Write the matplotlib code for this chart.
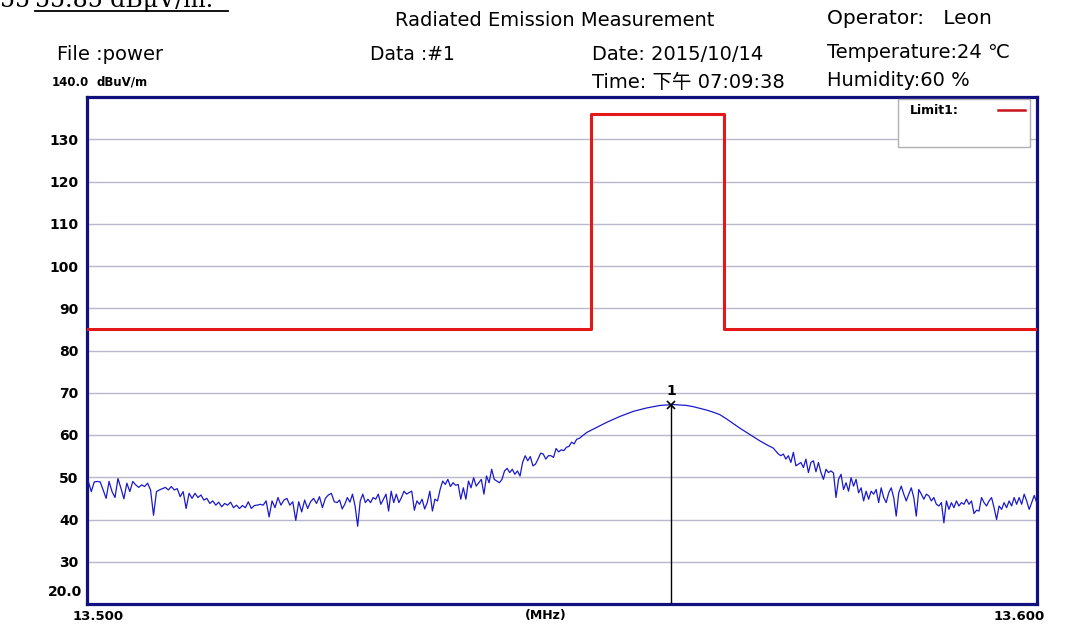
import numpy as np
import matplotlib.pyplot as plt
from matplotlib.patches import Rectangle
from matplotlib.lines import Line2D

plt.rcParams['font.family'] = ['DejaVu Sans', 'Noto Sans CJK SC']

# sweep, in four stretches (start MHz, stop MHz, levels dBuV/m)
seg_a = (13.50014, 13.52603, [
    49.0, 46.6, 48.9, 49.0, 48.9, 47.0, 45.0, 49.0, 46.6, 45.2, 49.7, 47.4, 44.9, 48.6,
    46.6, 49.0, 48.2, 47.6, 48.2, 47.8, 48.6, 47.0, 41.0, 46.6, 47.0, 47.3, 47.6, 47.0,
    47.8, 47.0, 47.3, 45.4, 46.6, 42.6, 46.2, 45.0, 46.2, 45.2, 45.8, 44.6, 45.0, 43.8,
    44.4, 43.4, 44.1, 43.0, 43.8, 43.4, 44.1, 42.8, 43.4, 42.6, 43.3, 42.8, 44.2, 42.6,
    43.3, 43.4, 43.6, 43.4, 44.4, 40.6, 44.4, 42.8, 45.2, 43.4, 44.6, 45.0, 43.4, 44.2,
    39.8, 44.2, 41.8, 44.6, 42.6, 44.2, 45.0, 43.8, 45.4, 42.8, 45.0, 45.8, 46.2, 44.2])
seg_b = (13.52632, 13.55182, [
    44.0, 44.6, 42.5, 43.6, 45.2, 44.1, 46.0, 43.2, 38.4, 44.4, 46.0, 44.0, 44.8, 44.0,
    45.2, 44.8, 46.0, 43.6, 44.8, 46.0, 42.0, 46.7, 44.0, 46.0, 44.0, 45.2, 46.7, 46.0,
    46.4, 46.7, 42.2, 44.4, 43.6, 44.8, 42.5, 44.0, 46.7, 42.0, 44.8, 44.4, 47.1, 49.1,
    48.3, 49.5, 47.8, 48.7, 48.1, 48.3, 44.8, 47.5, 44.8, 49.1, 47.5, 49.9, 47.9, 48.7,
    49.5, 46.0, 50.3, 48.7, 51.9, 49.5, 49.1, 48.7, 49.5, 51.5, 52.1, 51.1, 51.9, 50.7,
    51.5, 50.3, 53.5, 55.1, 53.9, 54.9, 52.7, 53.1, 54.3, 55.7, 55.5, 54.3, 55.1, 55.1,
    54.7, 56.8, 56.0, 56.5, 56.3, 57.1, 57.3, 58.3, 57.9, 59.0, 59.2])
seg_c = (13.55260, 13.57224, [
    60.6, 61.4, 62.2, 63.0, 63.7, 64.4, 65.0, 65.6, 66.0, 66.4, 66.7, 67.0, 67.1, 67.2,
    67.1, 67.0, 66.7, 66.3, 65.9, 65.4, 64.8, 63.8, 62.7, 61.6, 60.6, 59.6, 58.6, 57.7,
    56.9])
seg_d = (13.57277, 13.59997, [
    55.5, 55.1, 55.5, 54.3, 55.1, 53.5, 55.9, 52.7, 53.1, 53.5, 52.3, 54.3, 51.1, 53.5,
    53.9, 51.3, 53.5, 51.1, 49.5, 51.9, 51.1, 51.5, 51.0, 45.2, 49.5, 50.7, 47.1, 48.7,
    46.7, 49.9, 47.9, 49.5, 46.3, 47.5, 44.4, 46.7, 44.8, 46.7, 46.0, 47.1, 44.0, 47.5,
    45.2, 44.0, 46.3, 47.5, 45.2, 40.8, 46.3, 47.9, 46.0, 44.4, 46.0, 47.5, 45.2, 40.8,
    47.1, 46.0, 44.8, 46.0, 45.6, 44.4, 45.2, 43.6, 43.2, 44.0, 39.2, 44.4, 42.4, 44.0,
    42.8, 44.4, 43.2, 44.0, 43.6, 44.8, 43.6, 44.4, 41.4, 42.2, 42.0, 45.2, 44.0, 43.2,
    44.4, 45.2, 42.8, 40.0, 43.2, 42.4, 44.0, 42.8, 44.4, 43.2, 45.2, 43.6, 45.2, 43.6,
    46.0, 44.4, 42.4, 44.0, 45.7, 44.0])

limit_freq = [13.5, 13.5531, 13.5531, 13.5671, 13.5671, 13.6]
limit_level = [85, 85, 136, 136, 85, 85]

marker_freq = 13.5615
marker_level = 67.2

y_ticks = [30, 40, 50, 60, 70, 80, 90, 100, 110, 120, 130]

W, H = 1089, 628
fig = plt.figure(figsize=(W / 100, H / 100), dpi=100)
ax = fig.add_axes([87 / W, 1 - 604 / H, 950 / W, 507 / H])

navy = '#10107e'
red = '#e41818'
freq = np.concatenate([np.linspace(s, e, len(v)) for s, e, v in (seg_a, seg_b, seg_c, seg_d)])
level = np.concatenate([v for s, e, v in (seg_a, seg_b, seg_c, seg_d)])

ax.plot(freq, level, color='#1a1acc', lw=0.9, zorder=3)
ax.plot(limit_freq, limit_level, color=red, lw=2.2, zorder=4)
ax.plot([marker_freq, marker_freq], [20, marker_level], color='black', lw=1, zorder=5)
ax.plot([marker_freq], [marker_level], marker='x', color='black', ms=6, mew=1.2, zorder=6)
ax.text(marker_freq, marker_level + 1.6, '1', ha='center', va='bottom', fontsize=10,
        fontweight='bold')

ax.set_xlim(13.5, 13.6)
ax.set_ylim(20, 140)
ax.set_xticks([])
ax.set_yticks(y_ticks)
ax.set_yticklabels([str(t) for t in y_ticks], fontsize=10, fontweight='bold')
ax.tick_params(axis='y', length=0, pad=6)
ax.grid(axis='y', color='#b8b8cc', lw=1)
ax.set_axisbelow(True)
for sp in ax.spines.values():
    sp.set_color(navy)
    sp.set_linewidth(2.3)

# legend box
ax.add_patch(Rectangle(((898 - 87) / 950, 1 - 50 / 507), 132 / 950, 48 / 507,
                       transform=ax.transAxes, facecolor='white', edgecolor='#b0b0b0',
                       lw=1, zorder=7))
ax.text((910 - 87) / 950, 1 - 13 / 507, 'Limit1:', transform=ax.transAxes, fontsize=9,
        fontweight='bold', va='center', zorder=8)
ax.plot([(998 - 87) / 950, (1025 - 87) / 950], [1 - 13 / 507] * 2, transform=ax.transAxes,
        color='#c8141e', lw=1.8, zorder=8, clip_on=False)


def ftext(x, y, s, size, weight='normal', ha='left', **kw):
    fig.text(x / W, 1 - y / H, s, fontsize=size, fontweight=weight, ha=ha, va='center', **kw)


# clipped line of the document above the screenshot
fig.text(0, 1 - 7 / H, '55', fontsize=17, family='DejaVu Serif', va='baseline')
fig.text(35 / W, 1 - 7 / H, '55.85 dB\u03bcV/m.', fontsize=17, family='DejaVu Serif',
         va='baseline')
fig.add_artist(Line2D([35 / W, 228 / W], [1 - 11 / H] * 2, color='black', lw=1.3))

ftext(555, 21, 'Radiated Emission Measurement', 14, ha='center')
ftext(827, 18, 'Operator:   Leon', 14.5)
ftext(57, 55, 'File :power', 14)
ftext(370, 55, 'Data :#1', 13.5)
ftext(592, 55, 'Date: 2015/10/14', 14)
ftext(827, 53, 'Temperature:24 \u2103', 14)
ftext(592, 83, 'Time: 下午 07:09:38', 14)
ftext(827, 80, 'Humidity:60 %', 14)
ftext(52, 82, '140.0', 8.5, 'bold')
ftext(97, 82, 'dBuV/m', 8.5, 'bold')
ftext(82, 592, '20.0', 10, 'bold', ha='right')
ftext(98, 616, '13.500', 9.5, 'bold', ha='center')
ftext(546, 616, '(MHz)', 9, 'bold', ha='center')
ftext(1019, 616, '13.600', 9.5, 'bold', ha='center')

fig.savefig('out.png', dpi=100, facecolor='white')
